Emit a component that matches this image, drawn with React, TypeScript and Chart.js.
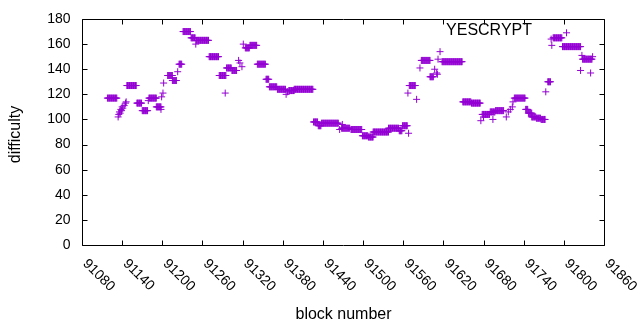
import { useEffect, useRef } from "react";
import { Chart, registerables } from "chart.js";

Chart.register(...registerables);

// Runs of consecutive blocks sharing one difficulty (start block, end block, difficulty)
const runStart = [
  91118, 91147, 91162, 91170, 91180, 91191, 91208, 91215, 91225, 91231, 91243, 91251,
  91270, 91285, 91296, 91304, 91324, 91331, 91342, 91355, 91360, 91372, 91389, 91397,
  91426, 91433, 91438, 91468, 91482, 91499, 91508, 91515, 91538, 91554, 91559, 91569,
  91587, 91600, 91618, 91649, 91662, 91678, 91690, 91698, 91726, 91743, 91747, 91752,
  91759, 91766, 91776, 91784, 91798, 91828,
];
const runEnd = [
  91132, 91161, 91169, 91178, 91191, 91198, 91215, 91221, 91229, 91242, 91249, 91269,
  91284, 91295, 91303, 91311, 91330, 91341, 91354, 91359, 91371, 91384, 91397, 91425,
  91432, 91437, 91463, 91480, 91498, 91507, 91515, 91538, 91553, 91558, 91566, 91578,
  91600, 91605, 91648, 91661, 91675, 91689, 91697, 91710, 91742, 91746, 91752, 91758,
  91765, 91772, 91780, 91797, 91825, 91842,
];
const runDiff = [
  117, 127, 113, 107, 117, 110, 135, 131, 144, 170, 165, 163,
  150, 135, 141, 139, 157, 159, 144, 132, 126, 124, 123, 124,
  98, 95, 97, 93, 92, 87, 86, 90, 93, 91, 95, 127,
  147, 134, 146, 114, 113, 104, 106, 107, 117, 108, 105, 102,
  101, 100, 130, 165, 158, 148,
];

// Isolated blocks
const singleBlock = [
  91134, 91135, 91136, 91137, 91138, 91139, 91140, 91141, 91143, 91145, 91146,
  91179, 91198, 91199, 91201, 91202, 91223, 91250, 91294, 91314, 91316, 91319, 91321,
  91385, 91387, 91465, 91469, 91567, 91568, 91580, 91585, 91607, 91610, 91611, 91612,
  91615, 91676, 91680, 91694, 91714, 91717, 91720, 91723, 91724, 91773, 91781, 91782,
  91804, 91825, 91827, 91840, 91843,
];
const singleDiff = [
  102, 104, 106, 105, 108, 107, 110, 109, 111, 113, 114,
  115, 108, 118, 121, 129, 138, 160, 121, 147, 145, 142, 160,
  120, 122, 92, 96, 121, 89, 116, 141, 140, 137, 136, 148,
  154, 99, 102, 100, 102, 106, 108, 110, 114, 122, 164, 159,
  169, 139, 151, 137, 150,
];

const xTicks = [91080, 91140, 91200, 91260, 91320, 91380, 91440, 91500, 91560, 91620, 91680, 91740, 91800, 91860];
const yTicks = [0, 20, 40, 60, 80, 100, 120, 140, 160, 180];

const seriesName = "YESCRYPT";
const xTitle = "block number";
const yTitle = "difficulty";
const pointColor = "#9400d3";
const FONT = "'Liberation Sans', Arial, sans-serif";

export default function App() {
  const ref = useRef<HTMLCanvasElement | null>(null);

  useEffect(() => {
    document.body.style.margin = "0";
    const canvas = ref.current;
    if (!canvas) return;

    const points: { x: number; y: number }[] = [];
    runStart.forEach((s, i) => {
      for (let b = s; b <= runEnd[i]; b++) points.push({ x: b, y: runDiff[i] });
    });
    singleBlock.forEach((b, i) => points.push({ x: b, y: singleDiff[i] }));

    const gnuplotFrame = {
      id: "gnuplotFrame",
      afterDraw(chart: any) {
        const ctx = chart.ctx as CanvasRenderingContext2D;
        const area = chart.chartArea;
        const xs = chart.scales.x;
        const ys = chart.scales.y;
        const L = Math.round(area.left) + 0.5;
        const R = Math.round(area.right) + 0.5;
        const T = Math.round(area.top) + 0.5;
        const B = Math.round(area.bottom) + 0.5;
        const tl = 5;
        ctx.save();
        ctx.strokeStyle = "#000";
        ctx.lineWidth = 1;
        ctx.beginPath();
        ctx.rect(L, T, R - L, B - T);
        yTicks.forEach((v) => {
          const y = Math.round(ys.getPixelForValue(v)) + 0.5;
          ctx.moveTo(L, y);
          ctx.lineTo(L + tl, y);
          ctx.moveTo(R, y);
          ctx.lineTo(R - tl, y);
        });
        xTicks.forEach((v) => {
          const x = Math.round(xs.getPixelForValue(v)) + 0.5;
          ctx.moveTo(x, B);
          ctx.lineTo(x, B - tl);
          ctx.moveTo(x, T);
          ctx.lineTo(x, T + tl);
        });
        ctx.stroke();

        ctx.fillStyle = "#000";
        ctx.font = `14px ${FONT}`;
        ctx.textAlign = "right";
        ctx.textBaseline = "middle";
        yTicks.forEach((v) => {
          ctx.fillText(String(v), L - 12, ys.getPixelForValue(v));
        });
        ctx.textAlign = "left";
        xTicks.forEach((v) => {
          const x = xs.getPixelForValue(v);
          ctx.save();
          ctx.translate(x + 3, B + 16);
          ctx.rotate(Math.PI / 4);
          ctx.fillText(String(v), 0, 0);
          ctx.restore();
        });

        ctx.font = `16px ${FONT}`;
        ctx.textAlign = "center";
        ctx.textBaseline = "middle";
        ctx.fillText(xTitle, (L + R) / 2, 315);
        ctx.save();
        ctx.translate(16, (T + B) / 2 + 2);
        ctx.rotate(-Math.PI / 2);
        ctx.fillText(yTitle, 0, 0);
        ctx.restore();

        ctx.textAlign = "right";
        ctx.fillText(seriesName, 532, 31);
        ctx.restore();
      },
    };

    const chart = new Chart(canvas, {
      type: "scatter",
      data: {
        datasets: [
          {
            label: seriesName,
            data: points,
            pointStyle: "cross",
            pointRadius: 3.5,
            pointHoverRadius: 3.5,
            borderWidth: 1,
            borderColor: pointColor,
            backgroundColor: pointColor,
            showLine: false,
          },
        ],
      },
      options: {
        responsive: false,
        animation: false,
        events: [],
        layout: { autoPadding: false, padding: { top: 19, right: 36, left: 0, bottom: 0 } },
        plugins: { legend: { display: false }, tooltip: { enabled: false } },
        scales: {
          x: {
            type: "linear",
            min: 91080,
            max: 91860,
            grid: { display: false },
            border: { display: false },
            ticks: { display: false },
            afterFit: (s: any) => {
              s.height = 85;
            },
          },
          y: {
            type: "linear",
            min: 0,
            max: 180,
            grid: { display: false },
            border: { display: false },
            ticks: { display: false },
            afterFit: (s: any) => {
              s.width = 82;
            },
          },
        },
      },
      plugins: [gnuplotFrame],
    });
    return () => chart.destroy();
  }, []);

  return (
    <div style={{ position: "absolute", left: 0, top: 0, width: 640, height: 330, background: "#fff" }}>
      <canvas ref={ref} width={640} height={330} style={{ width: 640, height: 330, display: "block" }} />
    </div>
  );
}
